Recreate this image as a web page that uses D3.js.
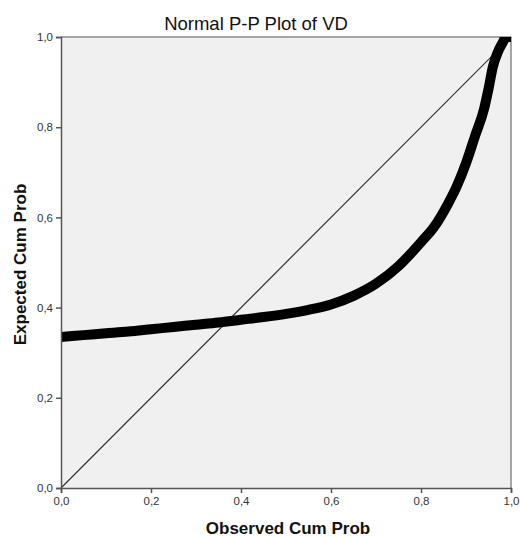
<!DOCTYPE html>
<html><head><meta charset="utf-8">
<script src="https://cdn.jsdelivr.net/npm/d3@7"></script>
<style>
body{margin:0;background:#fff;}
svg{display:block;}
</style></head>
<body>
<svg id="chart" width="520" height="537"></svg>
<script>
const title = "Normal P-P Plot of VD";
const xLabel = "Observed Cum Prob";
const yLabel = "Expected Cum Prob";
const tickValues = [0, 0.2, 0.4, 0.6, 0.8, 1.0];
const observed = [0, 0.05, 0.1, 0.15, 0.2, 0.25, 0.3, 0.35, 0.4, 0.45, 0.5, 0.55, 0.6, 0.65, 0.7, 0.75, 0.8, 0.83, 0.86, 0.88, 0.9, 0.92, 0.94, 0.95, 0.96, 0.97, 0.98, 0.99, 1.0];
const expected = [0.335, 0.339, 0.343, 0.347, 0.352, 0.357, 0.362, 0.367, 0.373, 0.379, 0.386, 0.395, 0.407, 0.426, 0.453, 0.492, 0.545, 0.58, 0.63, 0.67, 0.72, 0.78, 0.84, 0.885, 0.935, 0.965, 0.985, 1.0, 1.0];
const diagonal = [0, 1];

const svg = d3.select("#chart");
const m = {left: 61, right: 9, top: 37, bottom: 49};
const W = 520, H = 537;
const x = d3.scaleLinear().domain([0, 1]).range([m.left, W - m.right]);
const y = d3.scaleLinear().domain([0, 1]).range([H - m.bottom, m.top]);
const fmt = d => d3.format(".1f")(d).replace(".", ",");
const font = "Liberation Sans, Arial, sans-serif";

svg.append("rect").attr("x", x(0)).attr("y", y(1)).attr("width", x(1) - x(0)).attr("height", y(0) - y(1))
  .attr("fill", "#f0f0f0");

svg.append("defs").append("clipPath").attr("id", "clip").append("rect")
  .attr("x", x(0)).attr("y", y(1)).attr("width", x(1) - x(0)).attr("height", y(0) - y(1));

// top & right frame
svg.append("line").attr("x1", x(0)).attr("x2", x(1)).attr("y1", y(1)).attr("y2", y(1)).attr("stroke", "#8a8a8a").attr("stroke-width", 1.5);
svg.append("line").attr("x1", x(1)).attr("x2", x(1)).attr("y1", y(1)).attr("y2", y(0)).attr("stroke", "#8a8a8a").attr("stroke-width", 1.5);

// diagonal reference
svg.append("line").attr("x1", x(diagonal[0])).attr("y1", y(diagonal[0])).attr("x2", x(diagonal[1])).attr("y2", y(diagonal[1]))
  .attr("stroke", "#333").attr("stroke-width", 1.2);

// P-P curve
const pts = observed.map((o, i) => [o, expected[i]]);
const g = svg.append("g").attr("clip-path", "url(#clip)");
g.append("path").datum(pts)
  .attr("d", d3.line().x(d => x(d[0])).y(d => y(d[1])).curve(d3.curveMonotoneX))
  .attr("fill", "none").attr("stroke", "#000").attr("stroke-width", 10)
  .attr("stroke-linecap", "round").attr("stroke-linejoin", "round");

// axes
const xAxis = svg.append("g").attr("transform", `translate(0,${y(0)})`)
  .call(d3.axisBottom(x).tickValues(tickValues).tickFormat(fmt).tickSize(5).tickPadding(4));
const yAxis = svg.append("g").attr("transform", `translate(${x(0)},0)`)
  .call(d3.axisLeft(y).tickValues(tickValues).tickFormat(fmt).tickSize(5).tickPadding(3));
[xAxis, yAxis].forEach(a => {
  a.select(".domain").attr("stroke", "#555").attr("stroke-width", 1.5);
  a.selectAll(".tick line").attr("stroke", "#555").attr("stroke-width", 1.5);
  a.selectAll("text").attr("fill", "#333").style("font-family", font).style("font-size", "11.5px");
});

svg.append("text").attr("x", 256).attr("y", 30).attr("text-anchor", "middle")
  .style("font-family", font).style("font-size", "18.5px").attr("fill", "#111").text(title);
svg.append("text").attr("x", 288).attr("y", 534).attr("text-anchor", "middle")
  .style("font-family", font).style("font-size", "17px").style("font-weight", "bold").attr("fill", "#111").text(xLabel);
svg.append("text").attr("transform", `translate(26,${(y(0) + y(1)) / 2 + 2}) rotate(-90)`).attr("text-anchor", "middle")
  .style("font-family", font).style("font-size", "17px").style("font-weight", "bold").attr("fill", "#111").text(yLabel);
</script>
</body></html>
